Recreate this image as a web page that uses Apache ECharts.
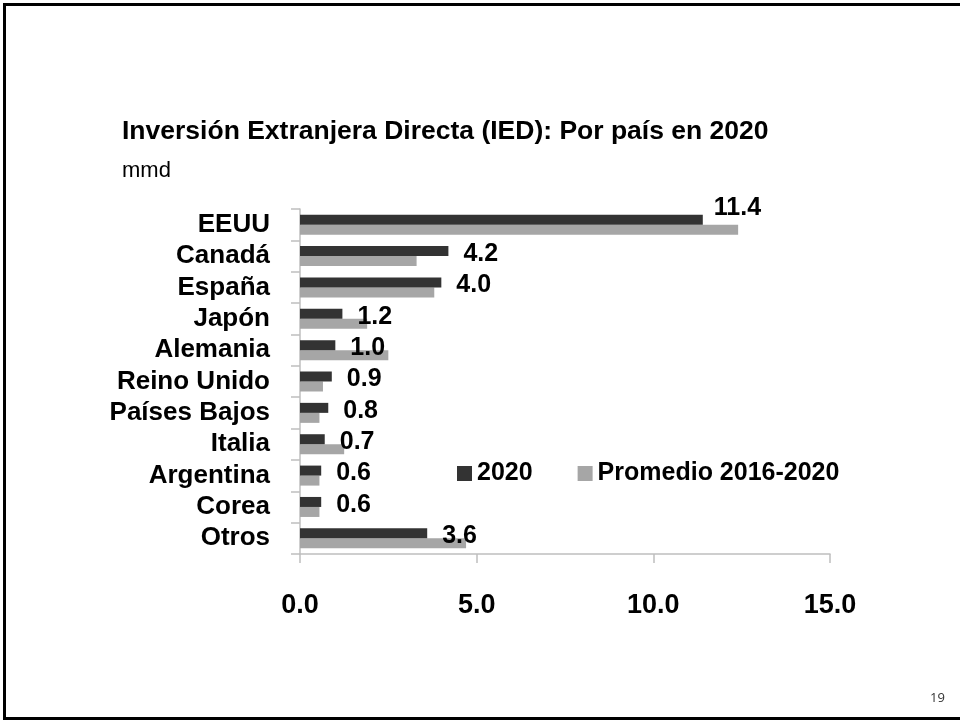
<!DOCTYPE html>
<html>
<head>
<meta charset="utf-8">
<title>IED por país 2020</title>
<script src="https://cdn.jsdelivr.net/npm/echarts@6/dist/echarts.min.js"></script>
<style>
  html, body { margin: 0; padding: 0; background: #fff; }
  #chart { width: 960px; height: 721px; }
</style>
</head>
<body>
<div id="chart"></div>
<script>
// datos (mmd)
var countries = ['EEUU', 'Canadá', 'España', 'Japón', 'Alemania', 'Reino Unido', 'Países Bajos', 'Italia', 'Argentina', 'Corea', 'Otros']
var values2020 = [11.4, 4.2, 4.0, 1.2, 1.0, 0.9, 0.8, 0.7, 0.6, 0.6, 3.6]
var valuesAvg = [12.4, 3.3, 3.8, 1.9, 2.5, 0.65, 0.55, 1.25, 0.55, 0.55, 4.7]
var xTicks = [0, 5, 10, 15]
var seriesNames = ['2020', 'Promedio 2016-2020']

var FONT = '"Liberation Sans Narrow", "Arial Narrow", "Liberation Sans", Arial, sans-serif'
var DARK = '#333333'
var GRAY = '#a6a6a6'
var AXIS = '#bfbfbf'

var chart = echarts.init(document.getElementById('chart'))

chart.setOption({
  animation: false,
  backgroundColor: '#fff',
  title: [
    {
      text: 'Inversión Extranjera Directa (IED): Por país en 2020',
      left: 122,
      top: 118,
      padding: 0,
      textStyle: { fontFamily: FONT, fontSize: 26.5, fontWeight: 'bold', color: '#000' }
    },
    {
      text: 'mmd',
      left: 122,
      top: 160,
      padding: 0,
      textStyle: { fontFamily: FONT, fontSize: 22, fontWeight: 'normal', color: '#000' }
    },
    {
      text: '19',
      left: 930,
      top: 692,
      padding: 0,
      textStyle: { fontFamily: '"Open Sans", sans-serif', fontSize: 13, fontWeight: 'normal', color: '#333' }
    }
  ],
  graphic: [
    {
      type: 'rect',
      shape: { x: 4.5, y: 4.5, width: 1000, height: 714 },
      style: { fill: 'none', stroke: '#000', lineWidth: 3 },
      silent: true
    }
  ],
  legend: {
    data: seriesNames,
    left: 457,
    top: 461,
    padding: 0,
    itemWidth: 15,
    itemHeight: 15,
    itemGap: 45,
    icon: 'rect',
    textStyle: { fontFamily: FONT, fontSize: 25, fontWeight: 'bold', color: '#000' }
  },
  grid: {
    left: 300,
    right: 130,
    top: 209,
    bottom: 167,
    containLabel: false
  },
  xAxis: {
    type: 'value',
    min: xTicks[0],
    max: xTicks[xTicks.length - 1],
    interval: xTicks[1] - xTicks[0],
    splitLine: { show: false },
    axisLine: { show: true, lineStyle: { color: AXIS, width: 1.5 } },
    axisTick: { show: true, length: 9, lineStyle: { color: AXIS, width: 1.5 } },
    axisLabel: {
      margin: 38,
      fontFamily: FONT,
      fontSize: 27,
      fontWeight: 'bold',
      color: '#000',
      formatter: function(v) {
        return v.toFixed(1)
      }
    }
  },
  yAxis: {
    type: 'category',
    data: countries,
    inverse: true,
    axisLine: { show: true, lineStyle: { color: AXIS, width: 1.5 } },
    axisTick: { show: true, length: 9, lineStyle: { color: AXIS, width: 1.5 } },
    axisLabel: {
      interval: 0,
      margin: 30,
      fontFamily: FONT,
      fontSize: 26,
      fontWeight: 'bold',
      color: '#000'
    }
  },
  series: [
    {
      name: seriesNames[0],
      type: 'bar',
      barWidth: 10,
      barGap: '0%',
      itemStyle: { color: DARK },
      label: {
        show: true,
        position: 'right',
        distance: 5,
        offset: [10, 3],
        fontFamily: FONT,
        fontSize: 25,
        fontWeight: 'bold',
        color: '#000',
        formatter: function(p) {
          return p.value.toFixed(1)
        }
      },
      data: values2020.map(function(v, i) {
        // la etiqueta de EEUU va un poco mas arriba en el original
        if (i === 0) {
          return { value: v, label: { offset: [6, -12] } }
        }
        return v
      }),
      z: 3
    },
    {
      name: seriesNames[1],
      type: 'bar',
      barWidth: 10,
      barGap: '0%',
      itemStyle: { color: GRAY },
      data: valuesAvg,
      z: 2
    }
  ]
})
</script>
</body>
</html>
